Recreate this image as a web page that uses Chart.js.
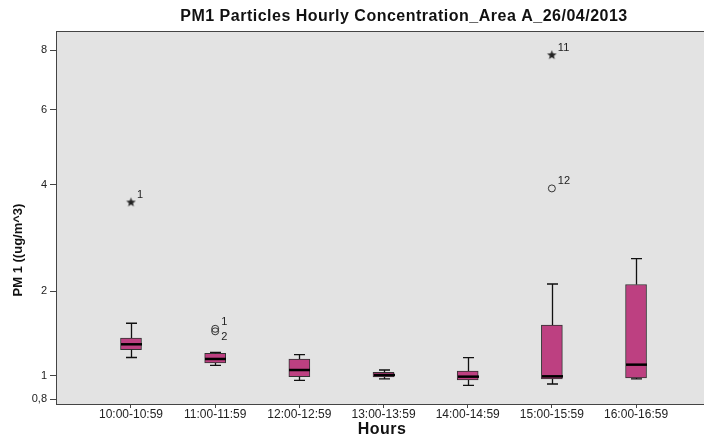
<!DOCTYPE html>
<html>
<head>
<meta charset="utf-8">
<script src="https://cdn.jsdelivr.net/npm/chart.js@4.4.1/dist/chart.umd.min.js"></script>
<style>
  body { margin: 0; background: #fff; }
  canvas { display: block; }
</style>
</head>
<body>
<canvas id="chart" width="704" height="439"></canvas>
<script>
const hours = ["10:00-10:59", "11:00-11:59", "12:00-12:59", "13:00-13:59", "14:00-14:59", "15:00-15:59", "16:00-16:59"];
const whiskerLow = [1.18, 1.10, 0.96, 0.973, 0.917, 0.928, 0.973];
const q1 = [1.262, 1.125, 0.994, 0.991, 0.964, 0.973, 0.982];
const median = [1.321, 1.165, 1.056, 1.009, 0.994, 0.997, 1.108];
const q3 = [1.392, 1.224, 1.165, 1.034, 1.047, 1.547, 2.10];
const whiskerHigh = [1.568, 1.234, 1.209, 1.056, 1.178, 2.108, 2.515];

// outliers: circle = outlier, star = extreme
const outlierHour = [0, 1, 1, 5, 5];
const outlierValue = [3.61, 1.50, 1.47, 7.83, 3.91];
const outlierType = ["star", "circle", "circle", "star", "circle"];
const outlierCase = ["1", "1", "2", "11", "12"];

const yTicks = [0.8, 1, 2, 4, 6, 8];

const FONT = "'Liberation Sans', Arial, sans-serif";
const BOX_COLOR = "#BD4081";

// the y axis is a cube-root scale, so values are plotted as cbrt(v)
const t = (v) => Math.cbrt(v);

const boxData = hours.map((h, i) => ({ x: i, y: [t(q1[i]), t(q3[i])] }));
const circles = [];
const stars = [];
outlierValue.forEach((v, i) => {
  const p = { x: outlierHour[i], y: t(v) };
  if (outlierType[i] === "star") stars.push(p);
  else circles.push(p);
});

// small filled star used as point style for extremes
function makeStar() {
  const c = document.createElement("canvas");
  c.width = 11; c.height = 11;
  const g = c.getContext("2d");
  g.fillStyle = "#222";
  g.beginPath();
  for (let k = 0; k < 10; k++) {
    const r = k % 2 === 0 ? 5 : 2.1;
    const ang = -Math.PI / 2 + k * Math.PI / 5;
    const px = 5.5 + r * Math.cos(ang);
    const py = 6 + r * Math.sin(ang);
    if (k === 0) g.moveTo(px, py); else g.lineTo(px, py);
  }
  g.closePath();
  g.fill();
  return c;
}

const boxPlugin = {
  id: "boxExtras",
  beforeDraw(chart) {
    const { ctx, chartArea: a } = chart;
    ctx.save();
    // plot background runs to the right edge of the picture
    ctx.fillStyle = "#E3E3E3";
    ctx.fillRect(a.left, a.top, chart.width - a.left, a.bottom - a.top);
    ctx.restore();
  },
  afterDatasetsDraw(chart) {
    const { ctx, chartArea: a } = chart;
    const xs = chart.scales.x;
    const ys = chart.scales.y;
    ctx.save();
    ctx.strokeStyle = "#111";
    ctx.lineWidth = 1.3;
    hours.forEach((h, i) => {
      const cx = Math.round(xs.getPixelForValue(i)) + 0.5;
      const yLo = ys.getPixelForValue(t(whiskerLow[i]));
      const yQ1 = ys.getPixelForValue(t(q1[i]));
      const yQ3 = ys.getPixelForValue(t(q3[i]));
      const yHi = ys.getPixelForValue(t(whiskerHigh[i]));
      ctx.beginPath();
      ctx.moveTo(cx, yQ3); ctx.lineTo(cx, yHi);
      ctx.moveTo(cx - 5.5, yHi); ctx.lineTo(cx + 5.5, yHi);
      ctx.moveTo(cx, yQ1); ctx.lineTo(cx, yLo);
      ctx.moveTo(cx - 5.5, yLo); ctx.lineTo(cx + 5.5, yLo);
      ctx.stroke();
      // median
      const yM = ys.getPixelForValue(t(median[i]));
      ctx.save();
      ctx.lineWidth = 2.5;
      ctx.strokeStyle = "#000";
      ctx.beginPath();
      ctx.moveTo(cx - 10.5, yM); ctx.lineTo(cx + 10.5, yM);
      ctx.stroke();
      ctx.restore();
    });

    // case labels next to outliers
    ctx.fillStyle = "#222";
    ctx.font = "11px " + FONT;
    ctx.textAlign = "left";
    ctx.textBaseline = "middle";
    outlierValue.forEach((v, i) => {
      const px = xs.getPixelForValue(outlierHour[i]);
      const py = ys.getPixelForValue(t(v));
      const below = i > 0 && outlierHour[i - 1] === outlierHour[i] && Math.abs(outlierValue[i - 1] - v) < 0.1;
      ctx.fillText(outlierCase[i], px + 6, below ? py + 6 : py - 7);
    });

    // title
    ctx.fillStyle = "#111";
    ctx.textAlign = "center";
    ctx.font = "bold 16px " + FONT;
    ctx.letterSpacing = "0.5px";
    ctx.fillText("PM1 Particles Hourly Concentration_Area A_26/04/2013", 404, 17);

    // top and bottom borders carried to the edge
    ctx.strokeStyle = "#444";
    ctx.lineWidth = 1;
    ctx.beginPath();
    ctx.moveTo(a.left, a.top + 0.5); ctx.lineTo(chart.width, a.top + 0.5);
    ctx.moveTo(a.right - 1, a.bottom + 0.5); ctx.lineTo(chart.width, a.bottom + 0.5);
    ctx.stroke();

    // axis titles
    ctx.font = "bold 16px " + FONT;
    ctx.fillText("Hours", 382, 430);
    ctx.letterSpacing = "0px";
    ctx.save();
    ctx.translate(18, 250);
    ctx.rotate(-Math.PI / 2);
    ctx.font = "bold 13px " + FONT;
    ctx.fillText("PM 1 ((ug/m^3)", 0, 0);
    ctx.restore();
    ctx.restore();
  },
};

new Chart(document.getElementById("chart"), {
  type: "bar",
  data: {
    datasets: [
      {
        data: boxData,
        backgroundColor: BOX_COLOR,
        borderColor: "#333",
        borderWidth: 1,
        borderSkipped: false,
        barThickness: 21,
      },
      {
        type: "scatter",
        data: circles,
        pointStyle: "circle",
        pointRadius: 3.5,
        pointBackgroundColor: "rgba(0,0,0,0)",
        pointBorderColor: "#333",
        pointBorderWidth: 1,
      },
      {
        type: "scatter",
        data: stars,
        pointStyle: makeStar(),
        pointRadius: 5,
      },
    ],
  },
  options: {
    responsive: false,
    animation: false,
    layout: { padding: { top: 31, left: 0, right: 0, bottom: 0 } },
    plugins: {
      legend: { display: false },
      tooltip: { enabled: false },
      title: { display: false },
    },
    scales: {
      x: {
        type: "linear",
        min: -0.891,
        max: 6.736,
        offset: false,
        afterBuildTicks: (scale) => {
          scale.ticks = hours.map((h, i) => ({ value: i }));
        },
        afterFit: (scale) => { scale.height = 35; },
        grid: { offset: false, drawOnChartArea: false, drawTicks: true, tickLength: 4, color: "#444" },
        border: { display: true, color: "#444", width: 1 },
        ticks: {
          padding: -1,
          maxRotation: 0,
          autoSkip: false,
          color: "#222",
          font: { size: 12, family: FONT },
          callback: (v) => hours[v],
        },
      },
      y: {
        type: "linear",
        min: 0.9141,
        max: 2.0583,
        afterBuildTicks: (scale) => {
          scale.ticks = yTicks.map((v) => ({ value: t(v) }));
        },
        afterFit: (scale) => { scale.width = 56; },
        grid: { drawOnChartArea: false, drawTicks: true, tickLength: 6, color: "#444" },
        border: { display: true, color: "#444", width: 1 },
        ticks: {
          padding: 3,
          color: "#222",
          font: { size: 11, family: FONT },
          callback: (v) => {
            const raw = Math.round(Math.pow(v, 3) * 10) / 10;
            return String(raw).replace(".", ",");
          },
        },
      },
    },
  },
  plugins: [boxPlugin],
});
</script>
</body>
</html>
